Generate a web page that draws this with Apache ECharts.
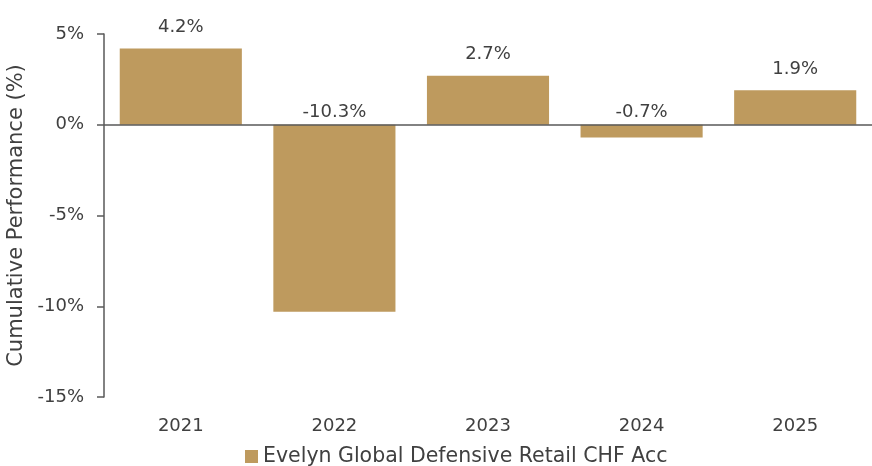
<!DOCTYPE html>
<html>
<head>
<meta charset="utf-8">
<script src="https://cdn.jsdelivr.net/npm/echarts@6/dist/echarts.min.js"></script>
<style>
  html, body { margin: 0; padding: 0; background: #fff; }
  #chart { width: 872px; height: 466px; }
</style>
</head>
<body>
<div id="chart"></div>
<script>
// Calendar-year cumulative performance
const years = ['2021', '2022', '2023', '2024', '2025'];
const performance = [4.2, -10.3, 2.7, -0.7, 1.9];
const seriesName = 'Evelyn Global Defensive Retail CHF Acc';
const yTicks = { min: -15, max: 5, step: 5 };

const textColor = '#404040';
const axisColor = '#595959';
const barColor = '#BE9A5E';
const fontFamily = '"DejaVu Sans", sans-serif';

const chart = echarts.init(document.getElementById('chart'));
chart.setOption({
  animation: false,
  textStyle: { fontFamily: fontFamily, color: textColor },
  grid: { left: 104, right: 0, top: 34, bottom: 69, outerBoundsMode: 'none' },
  legend: {
    top: 441,
    left: 240,
    itemWidth: 13,
    itemHeight: 13,
    itemGap: 6,
    icon: 'rect',
    textStyle: { fontSize: 20.5, color: textColor, fontFamily: fontFamily },
    data: [seriesName]
  },
  xAxis: {
    type: 'category',
    data: years,
    axisLine: { show: false },
    axisTick: { show: false },
    axisLabel: { fontSize: 18, color: textColor, margin: 20 }
  },
  yAxis: {
    type: 'value',
    min: yTicks.min,
    max: yTicks.max,
    interval: yTicks.step,
    name: 'Cumulative Performance (%)',
    nameLocation: 'middle',
    nameGap: 74,
    nameTextStyle: { fontSize: 21, color: textColor },
    axisLine: { show: true, lineStyle: { color: axisColor, width: 1.5 } },
    axisTick: { show: true, length: 7, lineStyle: { color: axisColor, width: 1.5 } },
    splitLine: { show: false },
    axisLabel: { fontSize: 18, color: textColor, margin: 20, formatter: v => v + '%' }
  },
  series: [{
    name: seriesName,
    type: 'bar',
    data: performance,
    barWidth: '79.5%',
    itemStyle: { color: barColor },
    label: {
      show: true,
      position: 'top',
      distance: 12,
      fontSize: 18,
      color: textColor,
      formatter: p => p.value.toFixed(1) + '%'
    },
    labelLayout: function (params) {
      // keep every value label just above the zero line for negative bars
      if (params.dataIndex !== undefined && performance[params.dataIndex] < 0) {
        const zeroY = chart.convertToPixel({ yAxisIndex: 0 }, 0);
        return { y: zeroY - 3 - params.labelRect.height, x: params.labelRect.x };
      }
      return {};
    },
    markLine: {
      silent: true,
      symbol: 'none',
      label: { show: false },
      lineStyle: { color: axisColor, width: 1.5, type: 'solid' },
      data: [{ yAxis: 0 }]
    }
  }]
});
</script>
</body>
</html>
